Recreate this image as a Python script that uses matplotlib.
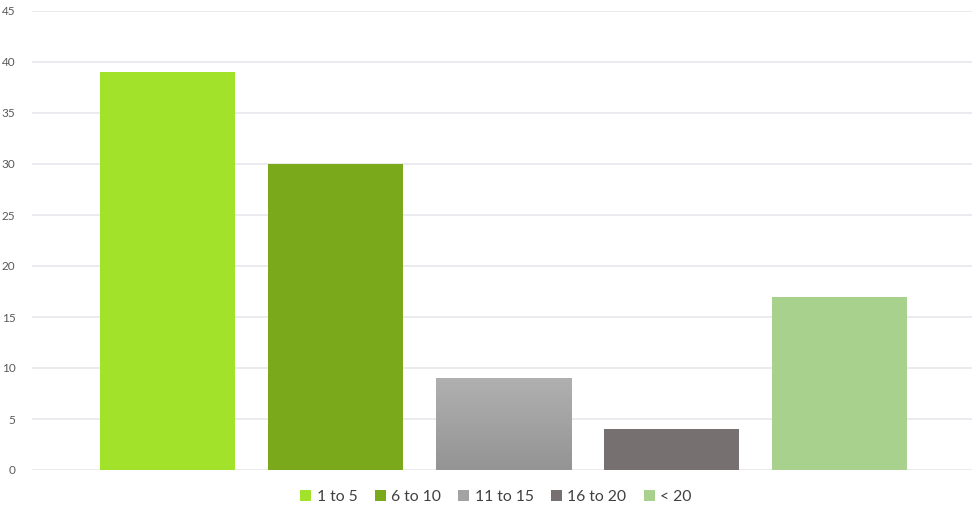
import numpy as np
import matplotlib.pyplot as plt
from matplotlib.patches import Patch
from matplotlib.colors import LinearSegmentedColormap

# Data
categories = ['1 to 5', '6 to 10', '11 to 15', '16 to 20', '< 20']
values = [39, 30, 9, 4, 17]
colors = ['#A3E22A', '#7AAA1C', '#A3A3A3', '#767170', '#A9D18E']
yticks = [0, 5, 10, 15, 20, 25, 30, 35, 40, 45]

plt.rcParams['font.family'] = ['Lato', 'DejaVu Sans']

fig = plt.figure(figsize=(9.74, 5.07), dpi=100)
ax = fig.add_axes([32 / 974, 37 / 507, 940 / 974, 459 / 507])

x = np.arange(len(categories))
bars = ax.bar(x, values, width=0.804, color=colors, zorder=2)

# gradient fill for the third bar
b = bars[2]
b.set_facecolor('none')
grad = np.linspace(0, 1, 100).reshape(-1, 1)
cmap = LinearSegmentedColormap.from_list('g', ['#949494', '#B0B0B0'])
im = ax.imshow(grad, cmap=cmap, origin='lower', aspect='auto',
               extent=[b.get_x(), b.get_x() + b.get_width(), 0, b.get_height()],
               zorder=2)
im.set_clip_path(b)

ax.set_xlim(-0.807, 4.789)
ax.set_ylim(0, 45)
ax.set_yticks(yticks)
ax.set_xticks([])
ax.grid(axis='y', color='#E9E9EE', linewidth=1.3, zorder=0)
for s in ax.spines.values():
    s.set_visible(False)
ax.tick_params(axis='y', length=0, pad=12, labelsize=8.5, labelcolor='#595959')

handles = [Patch(facecolor=c, label=l) for c, l in zip(colors, categories)]
fig.legend(handles=handles, loc='center', bbox_to_anchor=(0.509, 10 / 507), ncol=5,
           frameon=False, fontsize=11.3, labelcolor='#404040',
           handlelength=0.7, handleheight=0.7, handletextpad=0.35, columnspacing=1.1)

plt.savefig('out.png', dpi=100)
